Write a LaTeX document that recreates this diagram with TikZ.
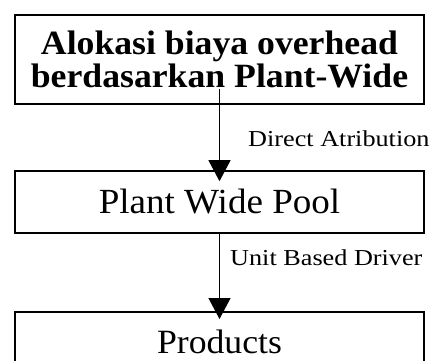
\documentclass[tikz,border=0pt]{standalone}
\usepackage{fontspec}
\setmainfont{Liberation Serif}
\usetikzlibrary{arrows.meta}
\newcommand{\hs}[1]{\scalebox{1.05}[1]{#1}}
\newcommand{\hl}[1]{\scalebox{1.15}[1]{#1}}
\begin{document}
\begin{tikzpicture}[x=1pt,y=-1pt,
  box/.style={draw,line width=1.6pt,rectangle,minimum width=409pt,inner sep=0pt},
  conn/.style={line width=1.2pt,-{Triangle[width=22pt,length=21pt]}},
  lbl/.style={anchor=base west,inner sep=0pt,font=\fontsize{22.8}{24}\selectfont}]
\clip (0,0) rectangle (433,360);
\useasboundingbox (0,0) rectangle (433,360);
\node[box,minimum height=89pt,align=center,font=\fontsize{34}{33}\selectfont\bfseries] (b1) at (219.5,59.5)
  {\hs{Alokasi biaya overhead}\\\hs{berdasarkan Plant-Wide}};
\node[box,minimum height=62pt,font=\fontsize{35.3}{37}\selectfont] (b2) at (219.5,202) {\hs{Plant Wide Pool}};
\node[box,anchor=north,text height=22.5pt,text depth=0pt,inner ysep=19pt,font=\fontsize{34}{36}\selectfont] (b3) at (219.5,311) {\hs{Products}};
\coordinate (s1) at (219.5,89);
\draw[conn] (s1) -- ([yshift=-11pt]b2.north);
\draw[conn] (b2.south) -- ([yshift=-8pt]b3.north);
\node[lbl] (l1) at (248,146) {\hl{Direct Atribution}};
\node[lbl] (l2) at (230,265) {\hl{Unit Based Driver}};
\end{tikzpicture}
\end{document}
